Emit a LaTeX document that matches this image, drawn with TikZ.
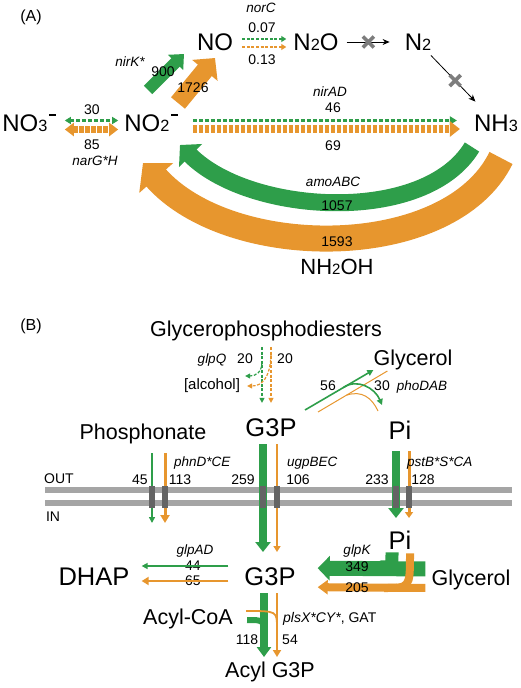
\documentclass[tikz,border=0pt]{standalone}
\usepackage{fontspec}
\usepackage{graphicx}
\setmainfont{Liberation Sans}
\usetikzlibrary{positioning,arrows.meta}

\definecolor{flowgreen}{RGB}{46,158,74}
\definecolor{floworange}{RGB}{231,150,46}
\definecolor{membranegray}{RGB}{165,165,165}
\definecolor{channelgray}{RGB}{100,100,100}
\definecolor{crossgray}{RGB}{125,125,125}

\newcommand\chemsub[1]{\scalebox{0.68}{#1}}
\newcommand\chg{\kern0.08em\rule[0.64em]{0.26em}{0.09em}}

\begin{document}
\begin{tikzpicture}[
        x=1pt, y=-1pt,
        species/.style={font=\fontsize{24}{24}\selectfont, inner sep=0pt, text depth=0pt},
        molecule/.style={font=\fontsize{21.5}{22}\selectfont, inner sep=0pt, text depth=0pt},
        metab/.style={font=\fontsize{25.5}{26}\selectfont, inner sep=0pt, text depth=0pt},
        num/.style={font=\fontsize{14}{14}\selectfont, inner sep=0pt, text depth=0pt},
        gene/.style={font=\fontsize{13.5}{14}\selectfont\itshape, inner sep=0pt, text depth=0pt},
        panel/.style={font=\fontsize{16}{16}\selectfont, inner sep=0pt, text depth=0pt},
        grn/.style={draw=flowgreen, line width=#1},
        org/.style={draw=floworange, line width=#1},
        ahead/.style 2 args={-{Triangle[width=#1,length=#2]}},
        gdash/.style={grn=2.4pt, dash pattern=on 4pt off 2pt},
        odash/.style={org=#1, dash pattern=on 4.5pt off 1.5pt},
        thindash/.style={dash pattern=on 3pt off 1.6pt},
        blockedflow/.style={draw=black, line width=0.8pt, -{Stealth[width=6pt,length=7pt]}},
        crossmark/.style={draw=crossgray, line width=3.6pt},
        membrane/.style={draw=membranegray, line width=6pt},
        channel/.style={rectangle, fill=channelgray, minimum width=6pt, minimum height=22pt, inner sep=0pt}
    ]
    \useasboundingbox (0,0) rectangle (520,688);

    % (A) nitrogen
    \node[panel] (labA) at (31,16) {(A)};
    \node[species] (no) at (215,42) {NO};
    \node[species] (n2o) at (316,42) {N\chemsub{2}O};
    \node[species] (n2) at (418,42) {N\chemsub{2}};
    \node[species] (no3) at (29,123) {NO\chemsub{3}\chg};
    \node[species] (no2) at (151,123) {NO\chemsub{2}\chg};
    \node[species] (nh3) at (496,123) {NH\chemsub{3}};
    \node[molecule, font=\fontsize{22}{22}\selectfont] (nh2oh) at (337,267) {NH\chemsub{2}OH};

    \node[gene] (norC) at (261,8) {norC};
    \node[num] (f007) at (262,28) {0.07};
    \node[num] (f013) at (262,60) {0.13};
    \draw[grn=1.3pt, thindash, ahead={6pt}{5pt}, shorten <=9pt, shorten >=7pt] ([yshift=3pt]no.east) -- ([yshift=3pt]n2o.west);
    \draw[org=1.3pt, thindash, ahead={6pt}{5pt}, shorten <=9pt, shorten >=7pt] ([yshift=-5pt]no.east) -- ([yshift=-5pt]n2o.west);
    \draw[blockedflow, shorten <=8pt, shorten >=15pt] (n2o) -- coordinate[pos=0.45] (cut1) (n2);
    \draw[blockedflow, shorten <=7pt, shorten >=18pt] (n2) -- coordinate[pos=0.47] (cut2) (nh3);
    \foreach \c in {cut1,cut2}
        \draw[crossmark] ([shift={(-5.5,-5.5)}]\c) -- ([shift={(5.5,5.5)}]\c)
                         ([shift={(-5.5,5.5)}]\c) -- ([shift={(5.5,-5.5)}]\c);

    \node[num] (f30) at (92,110) {30};
    \node[num] (f85) at (92,145) {85};
    \node[gene] (narGH) at (95,161) {narG*H};
    \draw[gdash, {Triangle[width=7pt,length=6pt]}-{Triangle[width=7pt,length=6pt]}, shorten <=9pt, shorten >=6pt] ([yshift=2.5pt]no3.east) -- ([yshift=2.5pt]no2.west);
    \draw[odash=7pt, {Triangle[width=13pt,length=9pt]}-{Triangle[width=13pt,length=9pt]}, shorten <=9pt, shorten >=6pt] ([yshift=-6.5pt]no3.east) -- ([yshift=-6.5pt]no2.west);

    \node[gene] (nirAD) at (330,92) {nirAD};
    \node[num] (f46) at (333,108) {46};
    \node[num] (f69) at (333,146) {69};
    \draw[gdash, ahead={8pt}{7pt}, shorten <=15pt, shorten >=17pt] ([yshift=2.5pt]no2.east) -- ([yshift=2.5pt]nh3.west);
    \draw[odash=7.5pt, ahead={15pt}{10pt}, shorten <=15pt, shorten >=14pt] ([yshift=-6pt]no2.east) -- ([yshift=-6pt]nh3.west);

    \node[gene] (nirK) at (130,62) {nirK*};
    \coordinate (kg0) at (148,90);
    \coordinate (kg1) at (184,54);
    \coordinate (ko0) at (178,103);
    \coordinate (ko1) at (215,58);
    \draw[grn=12pt, ahead={21pt}{12pt}] (kg0) -- (kg1);
    \draw[org=18pt, ahead={32pt}{16pt}] (ko0) -- (ko1);
    \node[num] (f900) at (163,72) {900};
    \node[num] (f1726) at (193,88) {1726};

    \draw[org=26pt, ahead={44pt}{20pt}] ([xshift=5pt,yshift=-35pt]nh3.center) .. controls (450,262) and (230,262) .. ([xshift=-8pt,yshift=-40pt]no2.center);
    \draw[grn=17pt, ahead={32pt}{15pt}] ([xshift=-24pt,yshift=-24pt]nh3.center) .. controls (425,225) and (250,215) .. ([xshift=29pt,yshift=-22pt]no2.center);
    \node[gene] (amoABC) at (333,182) {amoABC};
    \node[num] (f1057) at (337,206) {1057};
    \node[num] (f1593) at (337,242) {1593};

    % (B) phosphorus
    \node[panel] (labB) at (31,325) {(B)};
    \node[molecule] (gpd) at (266,329) {Glycerophosphodiesters};
    \node[gene] (glpQ) at (212,359) {glpQ};
    \node[num] (f20g) at (245,359) {20};
    \node[num] (f20o) at (285,359) {20};
    \node[num, font=\fontsize{15}{15}\selectfont] (alc) at (212,384) {[alcohol]};
    \node[molecule] (glyout) at (413,358) {Glycerol};
    \node[num] (f56) at (328,386) {56};
    \node[num] (f30b) at (382,386) {30};
    \node[gene] (phoDAB) at (422,386) {phoDAB};
    \node[metab] (g3pout) at (271,428) {G3P};
    \node[metab] (piout) at (400,430) {Pi};
    \node[molecule] (phn) at (143,432) {Phosphonate};

    \draw[grn=1.2pt, thindash, ahead={5pt}{5pt}, shorten <=10pt, shorten >=16pt] ([xshift=-4pt]gpd.south) -- ([xshift=-9pt]g3pout.north);
    \draw[org=1.2pt, thindash, ahead={5pt}{5pt}, shorten <=10pt, shorten >=16pt] ([xshift=5pt]gpd.south) -- ([xshift=0pt]g3pout.north);
    \draw[grn=1.2pt, thindash, ahead={5pt}{5pt}] ([xshift=-4pt,yshift=-25pt]gpd.south) .. controls (262,372) and (256,376) .. ([xshift=5pt,yshift=8pt]alc.east);
    \draw[org=1.2pt, thindash, ahead={5pt}{5pt}] ([xshift=5pt,yshift=-18pt]gpd.south) .. controls (270,378) and (262,386) .. ([xshift=7pt,yshift=-2pt]alc.east);

    \draw[grn=1.6pt, ahead={6pt}{6pt}] ([xshift=34pt,yshift=18pt]g3pout.center) -- coordinate[pos=0.56] (fork56) ([yshift=-12pt]glyout.west);
    \draw[org=1pt] ([xshift=47pt,yshift=16pt]g3pout.center) -- coordinate[pos=0.41] (fork30) ([xshift=14pt,yshift=-13pt]glyout.west);
    \draw[grn=1.6pt, ahead={6pt}{6pt}] (fork56) .. controls (357,378) and (375,388) .. ([xshift=-18pt,yshift=25pt]piout.center);
    \draw[org=1pt] (fork30) .. controls (362,390) and (372,398) .. ([xshift=-22pt,yshift=19pt]piout.center);

    % membrane
    \foreach \y in {490,503}
        \draw[membrane] (45,\y) -- (512,\y);
    \foreach \x/\n in {152/1,165/2,263/3,277/4,396/5,409/6}
        \coordinate (pore\n) at (\x,496.5);
    \node[num] (out) at (59,479) {OUT};
    \node[num] (in) at (53,517) {IN};

    \draw[grn=1.5pt, ahead={6pt}{6pt}] ([yshift=43.5pt]pore1) -- ([yshift=-26.5pt]pore1);
    \draw[org=3pt, ahead={9pt}{8pt}] ([yshift=43.5pt]pore2) -- ([yshift=-26.5pt]pore2);
    \draw[grn=8pt, ahead={15pt}{10pt}] ([yshift=52.5pt]pore3) -- ([yshift=-55.5pt]pore3);
    \draw[org=2.2pt, ahead={7pt}{6pt}] ([yshift=52.5pt]pore4) -- ([yshift=-55.5pt]pore4);
    \draw[grn=8pt, ahead={15pt}{10pt}] ([yshift=45.5pt]pore5) -- ([yshift=-21.5pt]pore5);
    \draw[org=3pt, ahead={8pt}{6pt}] ([yshift=45.5pt]pore6) -- ([yshift=-21.5pt]pore6);
    \foreach \n in {1,...,6}
        \node[channel] (ch\n) at (pore\n) {};

    \node[num] (f45) at (140,480) {45};
    \node[num] (f113) at (180,480) {113};
    \node[num] (f259) at (243,480) {259};
    \node[num] (f106) at (298,480) {106};
    \node[num] (f233) at (377,480) {233};
    \node[num] (f128) at (423,480) {128};
    \node[gene, anchor=west] (phnD) at (174,462) {phnD*CE};
    \node[gene, anchor=west] (ugpBEC) at (287,462) {ugpBEC};
    \node[gene, anchor=west] (pstB) at (407,462) {pstB*S*CA};

    % inside
    \node[metab] (piin) at (400,540) {Pi};
    \node[metab] (dhap) at (94,577) {DHAP};
    \node[metab] (g3pin) at (270,577) {G3P};
    \node[molecule] (glyin) at (471,578) {Glycerol};
    \node[molecule] (acoa) at (188,617) {Acyl-CoA};
    \node[molecule] (acg3p) at (270,670) {Acyl G3P};

    \node[gene] (glpAD) at (195,550) {glpAD};
    \node[num] (f44) at (193,566) {44};
    \node[num] (f65) at (193,581) {65};
    \draw[grn=1.5pt, ahead={6pt}{6pt}, shorten <=16pt, shorten >=12pt] ([yshift=11pt]g3pin.west) -- ([yshift=11pt]dhap.east);
    \draw[org=2.4pt, ahead={8pt}{7pt}, shorten <=16pt, shorten >=12pt] ([yshift=-4pt]g3pin.west) -- ([yshift=-4pt]dhap.east);

    \node[gene] (glpK) at (357,550) {glpK};
    \draw[grn=15pt, ahead={24pt}{12pt}, shorten <=6pt, shorten >=22pt] ([yshift=9pt]glyin.west) -- ([yshift=9pt]g3pin.east);
    \draw[grn=13pt] ([xshift=-8pt,yshift=-3pt]piin.south) .. controls (392,567) .. (380,567);
    \draw[org=8pt, ahead={14pt}{10pt}, shorten <=6pt, shorten >=22pt] ([yshift=-10pt]glyin.west) -- ([yshift=-10pt]g3pin.east);
    \draw[org=8pt] ([xshift=10pt,yshift=-4pt]piin.south) .. controls (410,588) .. (384,588);
    \node[num] (f349) at (357,567) {349};
    \node[num] (f205) at (357,588) {205};

    \draw[grn=8pt, ahead={14pt}{10pt}, shorten <=7pt, shorten >=5pt] ([xshift=-6pt]g3pin.south) -- ([xshift=-6pt]acg3p.north);
    \draw[grn=6pt] ([xshift=14pt,yshift=-3pt]acoa.east) .. controls (264,620) .. (264,636);
    \draw[org=2pt, ahead={8pt}{7pt}, shorten <=7pt, shorten >=5pt] ([xshift=7pt]g3pin.south) -- ([xshift=7pt]acg3p.north);
    \draw[org=1.8pt] ([xshift=13pt,yshift=6pt]acoa.east) .. controls (277,611) .. (277,628);
    \node[num, anchor=west] (plsX) at (283,617) {\itshape plsX*CY*\upshape, GAT};
    \node[num] (f118) at (247,640) {118};
    \node[num] (f54) at (290,640) {54};
\end{tikzpicture}
\end{document}
